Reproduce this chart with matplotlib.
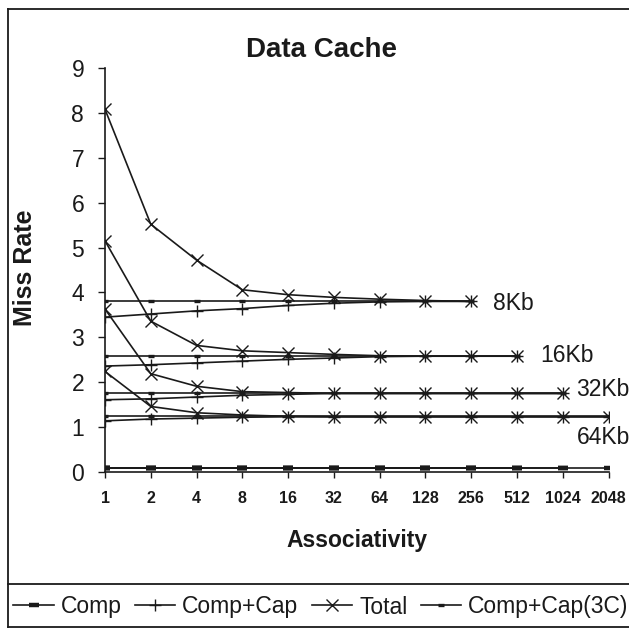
import matplotlib
matplotlib.use("Agg")
import matplotlib.pyplot as plt
from matplotlib.lines import Line2D

plt.rcParams['font.family'] = ['Liberation Sans', 'DejaVu Sans']

assoc = ['1', '2', '4', '8', '16', '32', '64', '128', '256', '512', '1024', '2048']
sizes = ['8Kb', '16Kb', '32Kb', '64Kb']

comp_8 = [0.1, 0.1, 0.1, 0.1, 0.1, 0.1, 0.1, 0.1, 0.1]
cc_8 = [3.45, 3.52, 3.59, 3.64, 3.71, 3.76, 3.79, 3.80, 3.80]
total_8 = [8.08, 5.52, 4.72, 4.06, 3.95, 3.89, 3.85, 3.82, 3.80]
c3_8 = [3.80, 3.80, 3.80, 3.80, 3.80, 3.80, 3.80, 3.80, 3.80]

comp_16 = [0.1, 0.1, 0.1, 0.1, 0.1, 0.1, 0.1, 0.1, 0.1, 0.1]
cc_16 = [2.36, 2.39, 2.43, 2.47, 2.51, 2.54, 2.57, 2.58, 2.58, 2.58]
total_16 = [5.15, 3.36, 2.82, 2.70, 2.66, 2.62, 2.59, 2.58, 2.58, 2.58]
c3_16 = [2.59, 2.59, 2.59, 2.59, 2.59, 2.59, 2.59, 2.59, 2.59, 2.59]

comp_32 = [0.1, 0.1, 0.1, 0.1, 0.1, 0.1, 0.1, 0.1, 0.1, 0.1, 0.1]
cc_32 = [1.61, 1.63, 1.67, 1.71, 1.73, 1.75, 1.75, 1.75, 1.75, 1.75, 1.75]
total_32 = [3.63, 2.19, 1.91, 1.79, 1.77, 1.75, 1.75, 1.75, 1.75, 1.75, 1.75]
c3_32 = [1.76, 1.76, 1.76, 1.76, 1.76, 1.76, 1.76, 1.76, 1.76, 1.76, 1.76]

comp_64 = [0.1, 0.1, 0.1, 0.1, 0.1, 0.1, 0.1, 0.1, 0.1, 0.1, 0.1, 0.1]
cc_64 = [1.14, 1.18, 1.20, 1.22, 1.23, 1.23, 1.23, 1.23, 1.23, 1.23, 1.23, 1.23]
total_64 = [2.24, 1.46, 1.32, 1.27, 1.24, 1.23, 1.23, 1.23, 1.23, 1.23, 1.23, 1.23]
c3_64 = [1.25, 1.25, 1.25, 1.25, 1.25, 1.25, 1.25, 1.25, 1.25, 1.25, 1.25, 1.25]

series = {
    '8Kb': (comp_8, cc_8, total_8, c3_8),
    '16Kb': (comp_16, cc_16, total_16, c3_16),
    '32Kb': (comp_32, cc_32, total_32, c3_32),
    '64Kb': (comp_64, cc_64, total_64, c3_64),
}

label_offsets = {'8Kb': (0.47, 3.76), '16Kb': (0.5, 2.6), '32Kb': (0.3, 1.84), '64Kb': (-0.7, 0.77)}

ink = '#1a1a1a'
fig = plt.figure(figsize=(6.29, 6.31), dpi=100)
ax = fig.add_axes([105 / 629, 1 - 472 / 631, 503.5 / 629, 404 / 631])

styles = [
    dict(marker='_', markersize=7, markeredgewidth=3.2),
    dict(marker='+', markersize=8, markeredgewidth=1.0),
    dict(marker='x', markersize=8, markeredgewidth=1.0),
    dict(marker='_', markersize=5, markeredgewidth=2.4),
]

for name in sizes:
    vals = series[name]
    for v, st in zip(vals, styles):
        xs = list(range(len(v)))
        ax.plot(xs, v, color=ink, linewidth=1.2, **st)
    n = len(vals[0])
    dx, ty = label_offsets[name]
    ax.text(n - 1 + dx, ty, name, fontsize=16.5, color=ink, ha='left', va='center')

ax.set_xlim(0, 11)
ax.set_ylim(0, 9)
ax.set_xticks(range(len(assoc)))
ax.set_xticklabels(assoc, fontsize=11.5, fontweight='bold')
ax.set_yticks(range(10))
ax.tick_params(axis='y', labelsize=16.5, length=5, width=1, pad=10, colors=ink)
ax.tick_params(axis='x', length=4, width=1, pad=10, colors=ink)
for s in ['top', 'right']:
    ax.spines[s].set_visible(False)
for s in ['left', 'bottom']:
    ax.spines[s].set_color(ink)
    ax.spines[s].set_linewidth(1.2)

fig.text(322 / 629, 1 - 50 / 631, 'Data Cache', fontsize=20, fontweight='bold', ha='center', va='center', color=ink)
fig.text(25 / 629, 1 - 268 / 631, 'Miss Rate', fontsize=18, fontweight='bold', rotation=90, ha='center', va='center', color=ink)
fig.text(357 / 629, 1 - 541 / 631, 'Associativity', fontsize=16.5, fontweight='bold', ha='center', va='center', color=ink)

# outer frame and legend separator
L, T, B = 8 / 629, 1 - 9 / 631, 1 - 627 / 631
sep = 1 - 584 / 631
for xs, ys in [([L, L], [B, T]), ([L, 1.0], [T, T]), ([L, 1.0], [B, B]), ([L, 1.0], [sep, sep])]:
    fig.add_artist(Line2D(xs, ys, transform=fig.transFigure, color=ink, linewidth=1.3))

handles = [Line2D([0], [0], color=ink, linewidth=1.2, **st) for st in styles]
leg = fig.legend(handles, ['Comp', 'Comp+Cap', 'Total', 'Comp+Cap(3C)'],
                 loc='center', bbox_to_anchor=(321 / 629, 1 - 607 / 631), ncol=4,
                 frameon=False, fontsize=16.5, handlelength=1.75, handletextpad=0.3,
                 columnspacing=0.6, borderpad=0, borderaxespad=0)
for t in leg.get_texts():
    t.set_color(ink)

fig.savefig('out.png', dpi=100, facecolor='white')
